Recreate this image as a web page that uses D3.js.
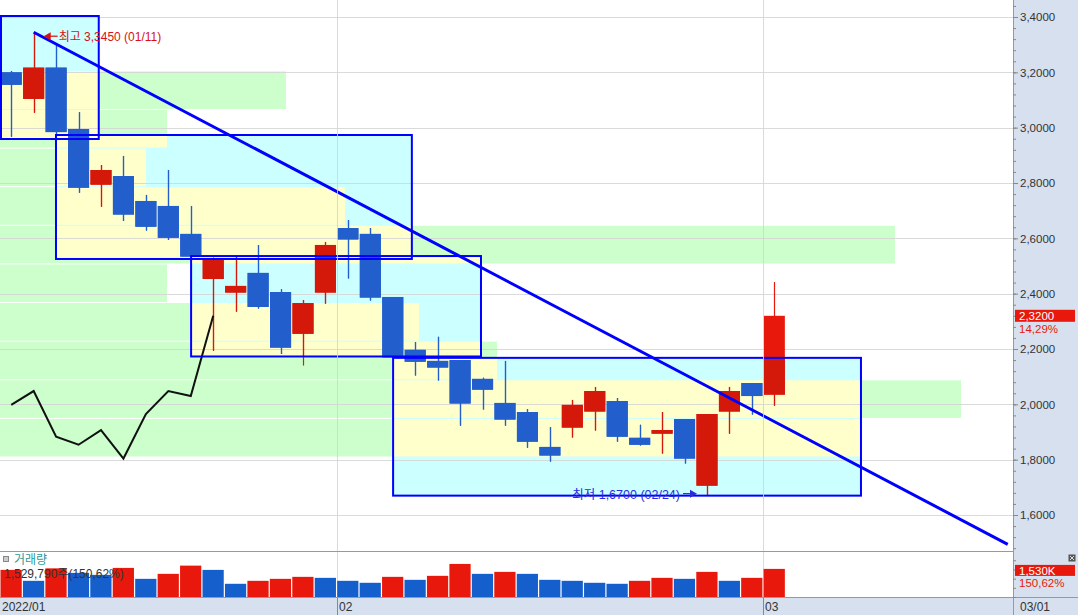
<!DOCTYPE html>
<html><head><meta charset="utf-8">
<script src="https://cdn.jsdelivr.net/npm/d3@7"></script>
<style>body{margin:0;background:#fff;} svg{display:block;}</style>
</head><body>
<svg id="chart" width="1078" height="615"></svg>
<script>
// ---------------- data ----------------
const dates = ["01/10","01/11","01/12","01/13","01/14","01/18","01/19","01/20","01/21","01/24","01/25","01/26","01/27","01/28","01/31",
  "02/01","02/02","02/03","02/04","02/07","02/08","02/09","02/10","02/11","02/14","02/15","02/16","02/17","02/18","02/22","02/23","02/24","02/25","02/28","03/01"];
const open  = [3.200,3.104,3.217,2.995,2.794,2.825,2.735,2.717,2.616,2.453,2.404,2.475,2.406,2.255,2.404,2.637,2.616,2.388,2.197,2.157,2.160,2.092,2.005,1.972,1.846,1.916,1.974,2.012,1.879,1.894,1.947,1.706,1.974,2.077,2.035];
const high  = [3.205,3.345,3.299,3.056,2.865,2.898,2.757,2.847,2.717,2.530,2.534,2.576,2.416,2.377,2.587,2.666,2.637,2.388,2.225,2.244,2.160,2.096,2.157,1.983,1.918,2.016,2.063,2.023,1.926,1.972,1.947,1.965,2.063,2.077,2.442];
const low   = [2.967,3.054,2.977,2.765,2.714,2.663,2.628,2.594,2.534,2.194,2.335,2.346,2.182,2.140,2.364,2.455,2.375,2.169,2.104,2.086,1.923,1.981,1.923,1.843,1.793,1.880,1.905,1.865,1.851,1.822,1.786,1.670,1.894,1.963,1.995];
const close = [3.155,3.217,2.984,2.783,2.847,2.686,2.642,2.602,2.534,2.522,2.428,2.352,2.205,2.366,2.576,2.596,2.386,2.169,2.154,2.133,2.003,2.053,1.945,1.865,1.815,1.998,2.048,1.883,1.854,1.907,1.804,1.965,2.048,2.030,2.320];
const volume = [1476,881,1560,1314,1206,1584,989,1260,1708,1476,719,881,989,1097,1043,881,773,1097,935,1152,1800,1260,1368,1260,935,881,773,719,881,1043,989,1368,881,1043,1530]; // thousand shares
const volumeUp = [1,0,1,0,0,1,0,1,1,0,0,1,1,1,0,0,0,1,0,1,1,0,1,0,0,0,0,0,1,1,0,1,0,1,1];
// price-volume profile (12 bands from low to high), arbitrary units
const profileBands = [0,8610,9610,4970,4190,1670,8950,3450,1460,1670,2860,0];
const profileLow = 1.670, profileHigh = 3.345;
// analysis boxes
const boxStart  = [-0.5, 1.95, 7.97, 16.97];
const boxEnd    = [3.9, 17.85, 20.93, 37.86];
const boxTop    = [3.4036, 2.9735, 2.536, 2.168];
const boxBottom = [2.959, 2.5254, 2.173, 1.670];
// trend line (index, price)
const trendFrom = [1, 3.345], trendTo = [44.4, 1.494];
const lagShift = 25;
const priceTicks = [1.6,1.8,2.0,2.2,2.4,2.6,2.8,3.0,3.2,3.4];
const monthTicks = [{i:0,label:"2022/01"},{i:15,label:"02"},{i:34,label:"03"}];

// ---------------- layout ----------------
const svg = d3.select("#chart");
const plotR = 1013;
const x = d3.scaleLinear().domain([-0.5, 44.5]).range([0, 1010]);
const step = x(1) - x(0);
const y = d3.scaleLinear().domain([1.6, 3.4]).range([515, 17]);
const yv = d3.scaleLinear().domain([0, 2450]).range([597, 552]);
const xp = d3.scaleLinear().domain([0, 9610]).range([0, 961]);
const RED = "#e8190c", BLUE = "#145fcc", RED_D = "#d4190b", BLUE_D = "#225ecc";
const FONT = "'Liberation Sans','Noto Sans CJK KR',sans-serif";

svg.append("rect").attr("width",1078).attr("height",615).attr("fill","#fff");

const defs = svg.append("defs");
defs.append("clipPath").attr("id","priceClip").append("rect").attr("x",0).attr("y",0).attr("width",plotR).attr("height",551);
const boxUnion = defs.append("clipPath").attr("id","boxUnion");
boxStart.forEach((s,k)=>{
  boxUnion.append("rect").attr("x",x(s)).attr("y",y(boxTop[k])).attr("width",x(boxEnd[k])-x(s)).attr("height",y(boxBottom[k])-y(boxTop[k]));
  defs.append("clipPath").attr("id","box"+k).append("rect").attr("x",x(s)).attr("y",y(boxTop[k])).attr("width",x(boxEnd[k])-x(s)).attr("height",y(boxBottom[k])-y(boxTop[k]));
});

const price = svg.append("g").attr("clip-path","url(#priceClip)");
const bandH = (profileHigh-profileLow)/profileBands.length;
const bands = profileBands.map((v,i)=>({v, lo: profileLow+i*bandH, hi: profileLow+(i+1)*bandH}));

// global profile (green)
price.append("g").selectAll("rect").data(bands).join("rect")
  .attr("x",0).attr("y",d=>y(d.hi)+0.5).attr("width",d=>xp(d.v)).attr("height",d=>y(d.lo)-y(d.hi)-1)
  .attr("fill","#ccffcc");
// boxes: cyan fill + yellow profile
boxStart.forEach((s,k)=>{
  const g = price.append("g").attr("clip-path",`url(#box${k})`);
  g.append("rect").attr("x",x(s)).attr("y",y(boxTop[k])).attr("width",x(boxEnd[k])-x(s)).attr("height",y(boxBottom[k])-y(boxTop[k])).attr("fill","#ccffff");
  g.selectAll("rect.b").data(bands).join("rect").attr("class","b")
    .attr("x",0).attr("y",d=>y(d.hi)+0.5).attr("width",d=>xp(d.v)).attr("height",d=>y(d.lo)-y(d.hi)-1)
    .attr("fill","#ffffcc");
});

// gridlines
price.append("g").selectAll("line").data(priceTicks).join("line")
  .attr("x1",0).attr("x2",plotR).attr("y1",d=>Math.round(y(d))+0.5).attr("y2",d=>Math.round(y(d))+0.5)
  .attr("stroke","#d4d4d4").attr("stroke-opacity",0.85);
svg.append("g").selectAll("line").data(monthTicks.filter(m=>m.i>0)).join("line")
  .attr("x1",d=>Math.round(x(d.i-0.5))+0.5).attr("x2",d=>Math.round(x(d.i-0.5))+0.5).attr("y1",0).attr("y2",598)
  .attr("stroke","#d4d4d4").attr("stroke-opacity",0.85);

// candles
const idx = d3.range(dates.length);
function drawCandles(g, up, down){
  g.selectAll("line.w").data(idx).join("line").attr("class","w")
    .attr("x1",i=>Math.round(x(i))+0.5).attr("x2",i=>Math.round(x(i))+0.5)
    .attr("y1",i=>y(high[i])).attr("y2",i=>y(low[i]))
    .attr("stroke",i=>close[i]>=open[i]?up:down).attr("stroke-width",1.2);
  g.selectAll("rect.c").data(idx).join("rect").attr("class","c")
    .attr("x",i=>x(i)-step/2+0.7).attr("width",step-1.4)
    .attr("y",i=>y(Math.max(open[i],close[i])))
    .attr("height",i=>Math.max(1.5, Math.abs(y(open[i])-y(close[i]))))
    .attr("fill",i=>close[i]>=open[i]?up:down);
}
drawCandles(price.append("g"), RED, "#1a5fd0");
drawCandles(price.append("g").attr("clip-path","url(#boxUnion)"), RED_D, BLUE_D);

// lagging span
const lagPts = idx.filter(i=>i+lagShift<close.length).map(i=>[x(i), y(close[i+lagShift])]);
price.append("path").attr("d",d3.line()(lagPts)).attr("fill","none").attr("stroke","#111").attr("stroke-width",2);

// box outlines
boxStart.forEach((s,k)=>{
  price.append("rect").attr("x",x(s)+1).attr("y",y(boxTop[k])).attr("width",x(boxEnd[k])-x(s)-1).attr("height",y(boxBottom[k])-y(boxTop[k]))
    .attr("fill","none").attr("stroke","#0000ff").attr("stroke-width",2);
});
// trend line
price.append("line").attr("x1",x(trendFrom[0])).attr("y1",y(trendFrom[1])).attr("x2",x(trendTo[0])).attr("y2",y(trendTo[1]))
  .attr("stroke","#0000ff").attr("stroke-width",3);

// annotations
const hiIdx = high.indexOf(d3.max(high)), loIdx = low.indexOf(d3.min(low));
const fmt4 = v => v.toFixed(4).replace(".",",");
const ax = x(hiIdx)+10, ay = y(high[hiIdx])+4;
price.append("line").attr("x1",ax+14).attr("x2",ax+4).attr("y1",ay).attr("y2",ay).attr("stroke","#d81010").attr("stroke-width",1.2);
price.append("path").attr("d",`M${ax},${ay} l7,-4 l0,8 z`).attr("fill","#d81010");
price.append("text").attr("x",ax+15).attr("y",ay+5).attr("fill","#d81010").attr("font-family",FONT).attr("font-size",12)
  .text(`최고 ${fmt4(high[hiIdx])} (${dates[hiIdx]})`);
const bx = x(loIdx)-10, by = y(low[loIdx])-2;
price.append("line").attr("x1",bx-14).attr("x2",bx-4).attr("y1",by).attr("y2",by).attr("stroke","#2a2ae0").attr("stroke-width",1.2);
price.append("path").attr("d",`M${bx},${by} l-7,-4 l0,8 z`).attr("fill","#2a2ae0");
price.append("text").attr("x",bx-17).attr("y",by+5).attr("text-anchor","end").attr("fill","#2a2ae0").attr("font-family",FONT).attr("font-size",12.5)
  .text(`최저 ${fmt4(low[loIdx])} (${dates[loIdx]})`);

// ---------------- volume pane ----------------
svg.append("g").selectAll("rect").data(idx).join("rect")
  .attr("x",i=>x(i)-step/2+0.5).attr("width",step-1.2)
  .attr("y",i=>yv(volume[i])).attr("height",i=>yv(0)-yv(volume[i]))
  .attr("fill",i=>volumeUp[i]?RED:BLUE);
svg.append("line").attr("x1",0).attr("x2",1078).attr("y1",551.5).attr("y2",551.5).attr("stroke","#999");
svg.append("rect").attr("x",3.5).attr("y",556.5).attr("width",5).attr("height",5).attr("fill","#ccc").attr("stroke","#888");
svg.append("text").attr("x",14).attr("y",564).attr("fill","#2a9a9a").attr("font-family",FONT).attr("font-size",12).text("거래량");
svg.append("text").attr("x",4).attr("y",578).attr("fill","#333").attr("font-family",FONT).attr("font-size",12)
  .text("1,529,790주(150,62%)");

// ---------------- axes ----------------
svg.append("rect").attr("x",plotR).attr("y",0).attr("width",1078-plotR).attr("height",615).attr("fill","#d6e0ee");
svg.append("rect").attr("x",0).attr("y",598).attr("width",1078).attr("height",17).attr("fill","#d6e0ee");
svg.append("line").attr("x1",0).attr("x2",1078).attr("y1",597.5).attr("y2",597.5).attr("stroke","#999");
svg.append("line").attr("x1",plotR+0.5).attr("x2",plotR+0.5).attr("y1",0).attr("y2",615).attr("stroke","#999");

const yAxis = svg.append("g").attr("transform",`translate(${plotR},0)`)
  .call(d3.axisRight(y).tickValues(priceTicks).tickSize(5).tickPadding(2).tickFormat(fmt4));
const yMinor = svg.append("g").attr("transform",`translate(${plotR},0)`)
  .call(d3.axisRight(y).tickValues(d3.range(1.48,3.45,0.04)).tickSize(3).tickFormat(""));
[yAxis,yMinor].forEach(a=>{a.select(".domain").remove(); a.selectAll("line").attr("stroke","#888");});
yAxis.selectAll("text").attr("fill","#333").attr("font-family",FONT).attr("font-size",11.5);
const vAxis = svg.append("g").attr("transform",`translate(${plotR},0)`)
  .call(d3.axisRight(yv).tickValues([0,500,1000,1500,2000]).tickSize(3).tickFormat(""));
vAxis.select(".domain").remove(); vAxis.selectAll("line").attr("stroke","#888");

// current price tag
const last = close.length-1;
const chg = (close[last]/close[last-1]-1)*100;
svg.append("rect").attr("x",plotR+2).attr("y",y(close[last])-6).attr("width",60).attr("height",12).attr("fill",RED);
svg.append("text").attr("x",plotR+6).attr("y",y(close[last])+4.5).attr("fill","#fff").attr("font-family",FONT).attr("font-size",11.5).text(fmt4(close[last]));
svg.append("text").attr("x",plotR+6).attr("y",y(close[last])+17).attr("fill",RED).attr("font-family",FONT).attr("font-size",11.5).text(chg.toFixed(2).replace(".",",")+"%");
// volume tag
svg.append("rect").attr("x",plotR+2).attr("y",yv(volume[last])-4).attr("width",60).attr("height",11).attr("fill",RED);
svg.append("text").attr("x",plotR+6).attr("y",yv(volume[last])+6).attr("fill","#fff").attr("font-family",FONT).attr("font-size",11.5).text("1,530K");
svg.append("text").attr("x",plotR+6).attr("y",yv(volume[last])+18).attr("fill",RED).attr("font-family",FONT).attr("font-size",11.5).text("150,62%");
svg.append("rect").attr("x",1068.5).attr("y",554.5).attr("width",7).attr("height",7).attr("fill","#555");
svg.append("path").attr("d","M1070,556 L1074,560 M1074,556 L1070,560").attr("stroke","#ddd").attr("stroke-width",1);

// time axis
svg.append("g").selectAll("line").data(monthTicks.filter(m=>m.i>0)).join("line")
  .attr("x1",d=>Math.round(x(d.i-0.5))+0.5).attr("x2",d=>Math.round(x(d.i-0.5))+0.5).attr("y1",598).attr("y2",615).attr("stroke","#888");
svg.append("g").selectAll("text").data(monthTicks).join("text")
  .attr("x",d=>d.i===0?2:Math.round(x(d.i-0.5))+2).attr("y",611).attr("fill","#333").attr("font-family",FONT).attr("font-size",12).text(d=>d.label);
svg.append("text").attr("x",plotR+7).attr("y",611).attr("fill","#333").attr("font-family",FONT).attr("font-size",12).text(dates[last]);
</script>
</body></html>
